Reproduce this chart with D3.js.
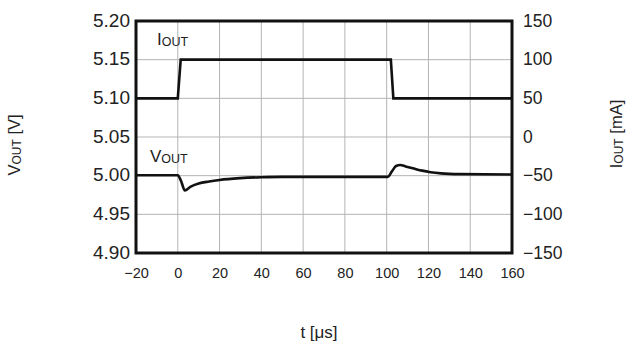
<!DOCTYPE html>
<html><head><meta charset="utf-8">
<script src="https://cdn.jsdelivr.net/npm/d3@7"></script>
<style>body{margin:0;background:#fff}svg{display:block;font-family:"Liberation Sans",Arial,sans-serif}</style>
</head><body><svg id="c" width="630" height="344"></svg>
<script>
const xTicks = [-20,0,20,40,60,80,100,120,140,160];
const vTicks = [4.90,4.95,5.00,5.05,5.10,5.15,5.20];
const iTicks = [-150,-100,-50,0,50,100,150];
const iT = [-20,0,1.4,102,103.2,160];
const iV = [50,50,100,100,50,50];
const vT = [-20,0,1.5,3.4,6,10,15,20,30,40,50,60,80,100.5,102.5,104.5,106.5,109,113,117,121,126,135,160];
const vV = [5.0005,5.0005,4.9935,4.981,4.9855,4.9898,4.9925,4.9945,4.9968,4.998,4.9985,4.9985,4.9985,4.9985,5.0055,5.0125,5.0137,5.012,5.0092,5.0065,5.0045,5.003,5.002,5.0015];

const svg = d3.select("#c");
const L=136,R=512,T=21,B=253;
const x = d3.scaleLinear().domain([-20,160]).range([L,R]);
const yV = d3.scaleLinear().domain([4.90,5.20]).range([B,T]);
const yI = d3.scaleLinear().domain([-150,150]).range([B,T]);
const fmtMinus = s => String(s).replace("-","\u2212");

// grid
svg.append("g").selectAll("line.gx").data(xTicks).join("line")
  .attr("x1",d=>x(d)).attr("x2",d=>x(d)).attr("y1",T).attr("y2",B)
  .attr("stroke","#b4b4b4").attr("stroke-width",1);
svg.append("g").selectAll("line.gy").data(vTicks).join("line")
  .attr("x1",L).attr("x2",R).attr("y1",d=>yV(d)).attr("y2",d=>yV(d))
  .attr("stroke","#b4b4b4").attr("stroke-width",1);

// axes via d3
const ax = svg.append("g").attr("transform",`translate(0,${B})`)
  .call(d3.axisBottom(x).tickValues(xTicks).tickSize(0).tickPadding(15).tickFormat(d=>fmtMinus(d)));
ax.select(".domain").remove();
ax.selectAll("text").attr("font-size",14.5).attr("fill","#222").attr("font-family",null);
const ay = svg.append("g").attr("transform",`translate(${L-6},0)`)
  .call(d3.axisLeft(yV).tickValues(vTicks).tickSize(0).tickPadding(0).tickFormat(d3.format(".2f")));
ay.select(".domain").remove();
ay.selectAll("text").attr("font-size",19).attr("fill","#222").attr("font-family",null).attr("dy","0.28em");
const ayr = svg.append("g").attr("transform",`translate(${R+11},0)`)
  .call(d3.axisRight(yI).tickValues(iTicks).tickSize(0).tickPadding(0).tickFormat(d=>fmtMinus(d)));
ayr.select(".domain").remove();
ayr.selectAll("text").attr("font-size",17.5).attr("fill","#222").attr("font-family",null).attr("dy","0.3em");

// lines
const line = (ys)=>d3.line().x(d=>x(d[0])).y(d=>ys(d[1]));
svg.append("path").datum(iT.map((t,i)=>[t,iV[i]]))
  .attr("d",line(yI)).attr("fill","none").attr("stroke","#111").attr("stroke-width",2.6);
svg.append("path").datum(vT.map((t,i)=>[t,vV[i]]))
  .attr("d",line(yV).curve(d3.curveMonotoneX)).attr("fill","none").attr("stroke","#111").attr("stroke-width",2.6);

// frame
svg.append("rect").attr("x",L).attr("y",T).attr("width",R-L).attr("height",B-T)
  .attr("fill","none").attr("stroke","#111").attr("stroke-width",3);

// labels with subscripts
function sub(g, main, s, rest, size, subSize){
  const t = g.append("text").attr("font-size",size).attr("fill","#222");
  t.append("tspan").text(main);
  t.append("tspan").attr("font-size",subSize).attr("dy",1).text(s);
  if(rest) t.append("tspan").attr("dy",-1).text(rest);
  return t;
}
sub(svg.append("g").attr("transform","translate(157,45)"),"I","OUT","",17,12.5);
sub(svg.append("g").attr("transform","translate(150,162)"),"V","OUT","",17,12.5);
sub(svg.append("g").attr("transform","translate(20,145) rotate(-90)"),"V","OUT"," [V]",16.5,12).attr("text-anchor","middle");
sub(svg.append("g").attr("transform","translate(622,134) rotate(-90)"),"I","OUT"," [mA]",16.5,12).attr("text-anchor","middle");
svg.append("text").attr("x",319).attr("y",338).attr("text-anchor","middle").attr("font-size",17).attr("fill","#222").text("t [\u03bcs]");
</script></body></html>
